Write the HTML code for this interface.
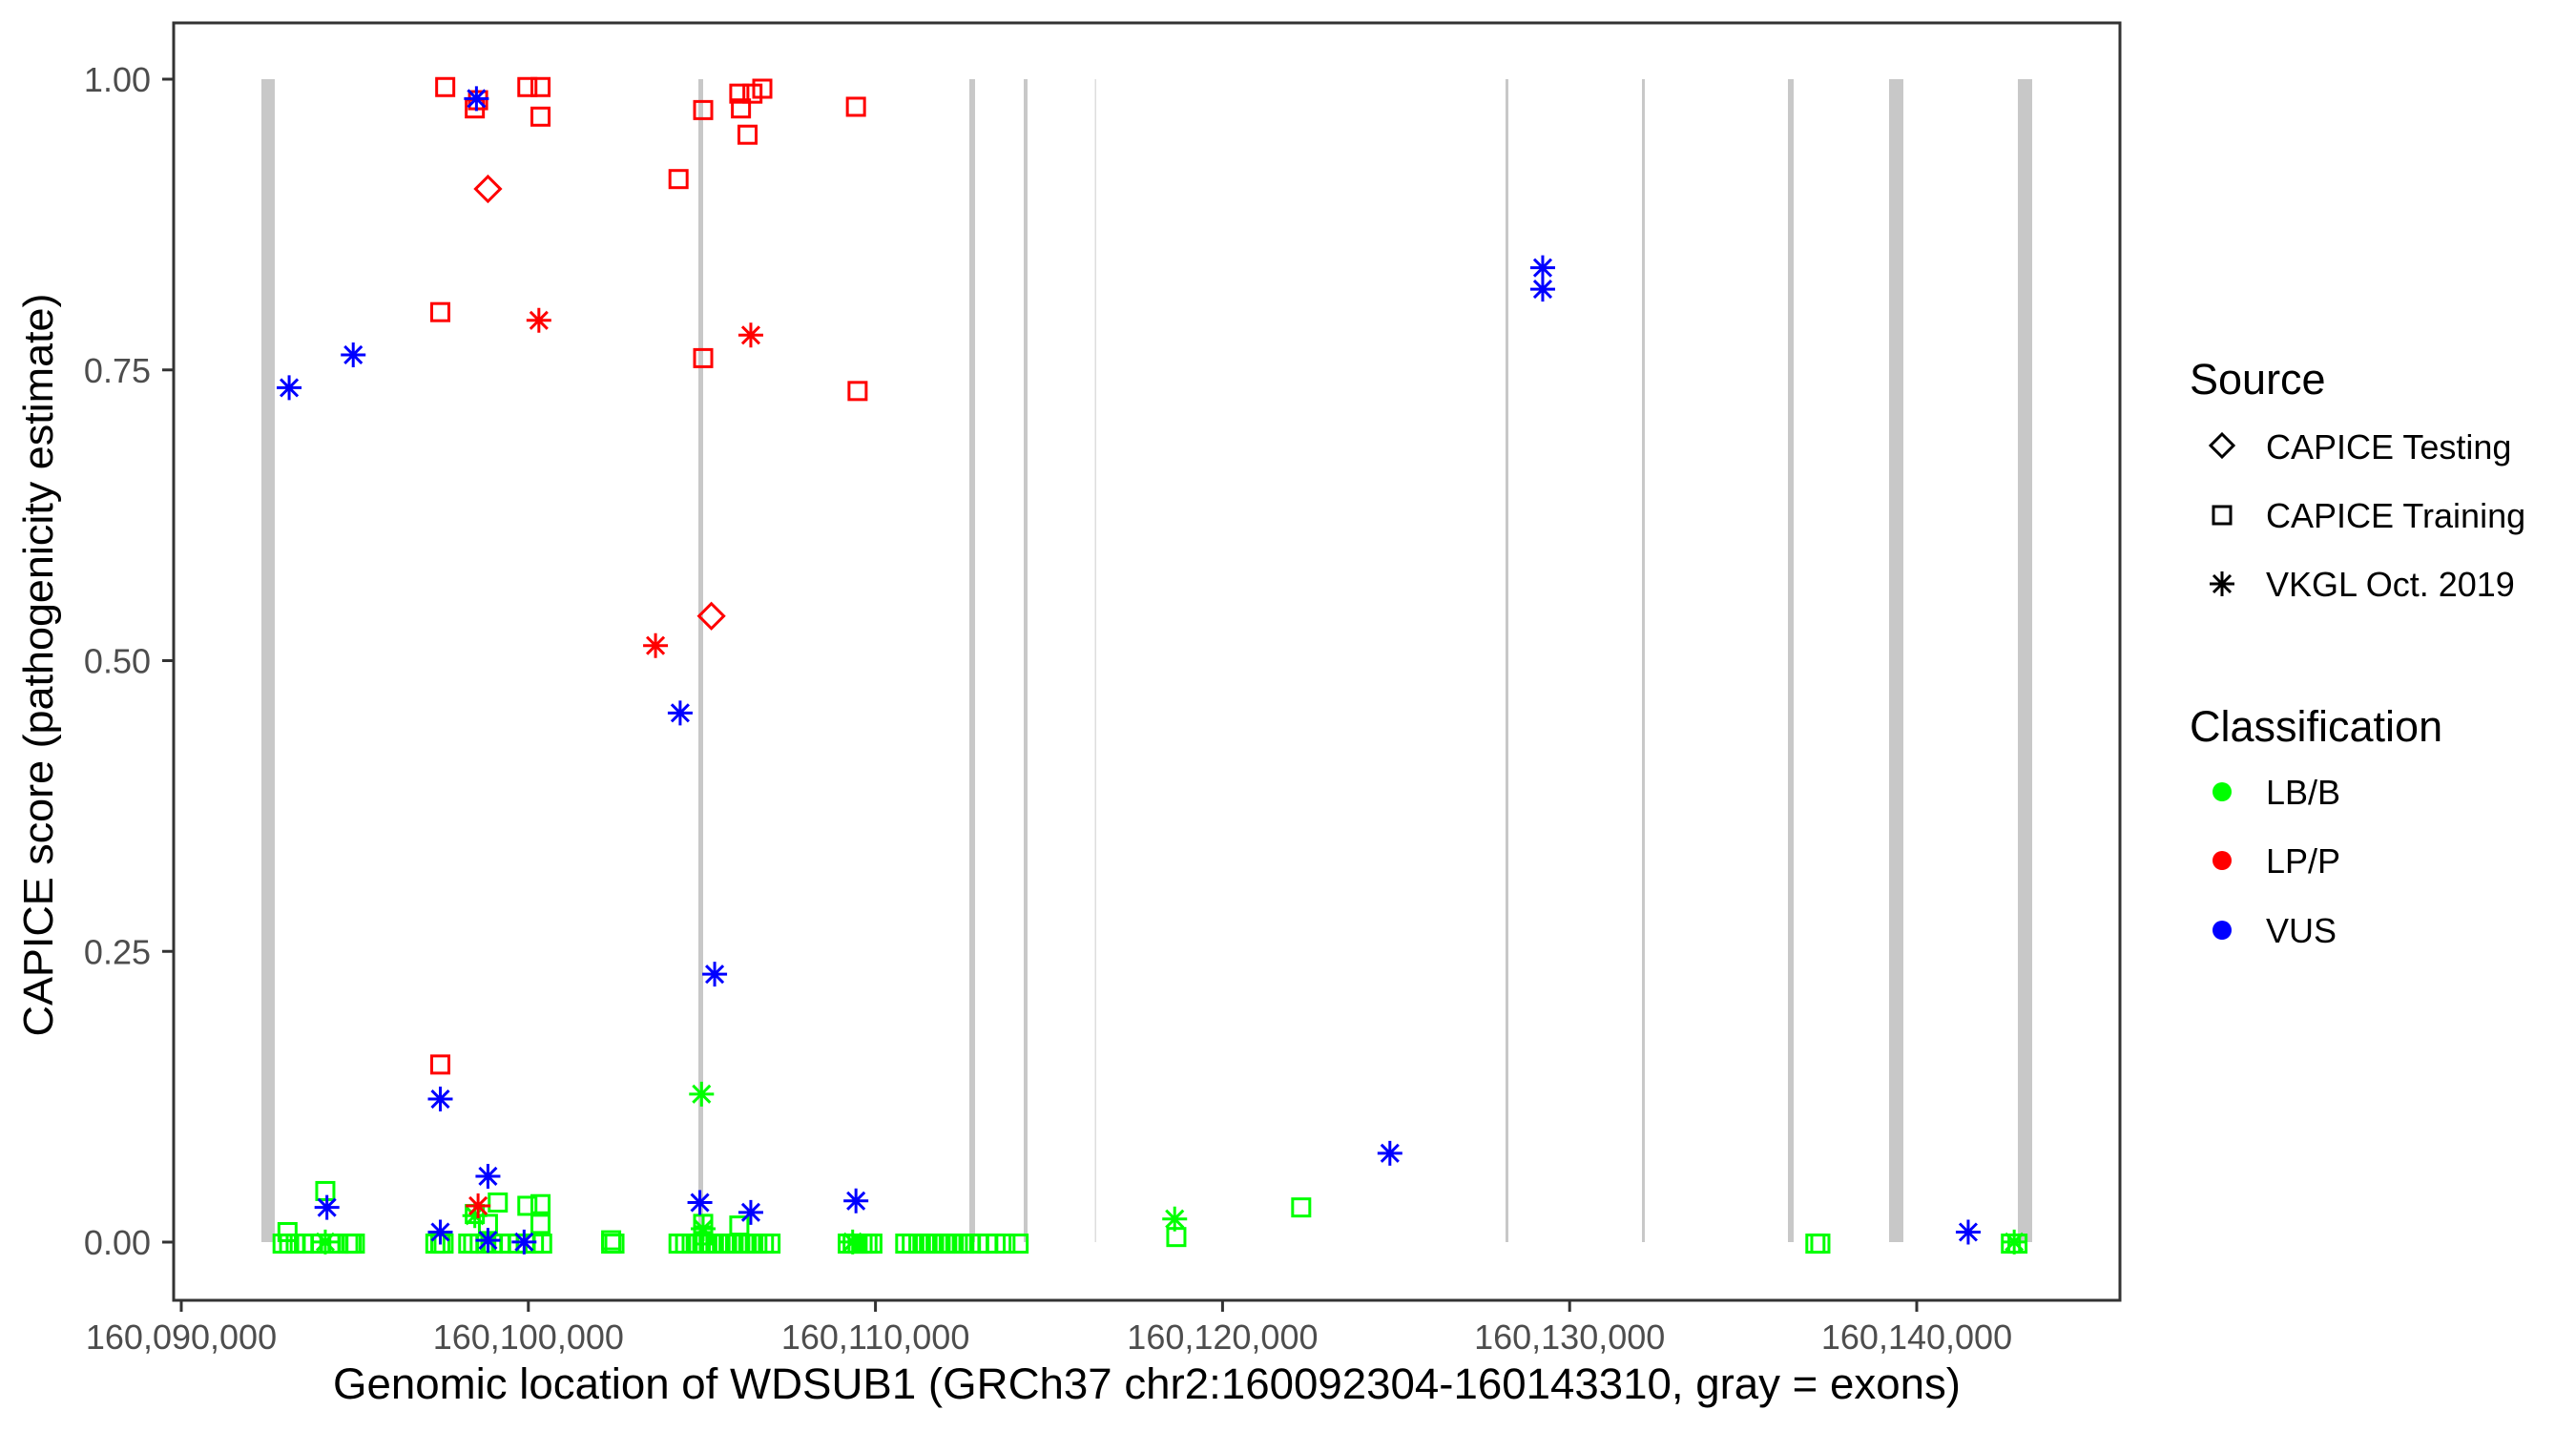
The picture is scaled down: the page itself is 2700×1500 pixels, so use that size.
<!DOCTYPE html>
<html><head><meta charset="utf-8"><style>
html,body{margin:0;padding:0;background:#fff;}
svg{display:block;font-family:"Liberation Sans",sans-serif;}
</style></head><body>
<svg id="s" width="2700" height="1500" xmlns="http://www.w3.org/2000/svg">
<rect width="2700" height="1500" fill="#fff"/>
<g id="exons" fill="#c8c8c8"></g>
<g id="pts" fill="none" stroke-width="3"></g>
<rect x="182" y="24" width="2040" height="1339" fill="none" stroke="#333" stroke-width="3"/>
<g stroke="#333" stroke-width="3" id="ticks"></g>
<g font-size="36" fill="#4d4d4d" id="labs"></g>
<text x="1202" y="1466" font-size="45" text-anchor="middle" textLength="1706" lengthAdjust="spacingAndGlyphs">Genomic location of WDSUB1 (GRCh37 chr2:160092304-160143310, gray = exons)</text>
<text transform="translate(55,697) rotate(-90)" font-size="44" text-anchor="middle" textLength="779" lengthAdjust="spacingAndGlyphs">CAPICE score (pathogenicity estimate)</text>
<g font-size="36" fill="#000">
<text x="2295" y="413" font-size="45">Source</text>
<text x="2375" y="481">CAPICE Testing</text>
<text x="2375" y="553">CAPICE Training</text>
<text x="2375" y="625">VKGL Oct. 2019</text>
<text x="2295" y="777" font-size="45">Classification</text>
<text x="2375" y="843">LB/B</text>
<text x="2375" y="915">LP/P</text>
<text x="2375" y="988">VUS</text>
</g>
<g stroke="#000" stroke-width="3" fill="none">
<polygon points="2329,455 2341,467 2329,479 2317,467"/>
<rect x="2320" y="531" width="18" height="18"/>
<path d="M2329,599v26M2316,612h26M2320,603l18,18M2320,621l18,-18"/>
</g>
<circle cx="2329" cy="830" r="10" fill="#00ff00"/>
<circle cx="2329" cy="902" r="10" fill="#ff0000"/>
<circle cx="2329" cy="975" r="10" fill="#0000ff"/>
</svg>
<script>
var NS="http://www.w3.org/2000/svg";
function el(p,t,a){var e=document.createElementNS(NS,t);for(var k in a)e.setAttribute(k,a[k]);p.appendChild(e);return e;}
var ex=document.getElementById('exons');
[[274,14],[732,5],[1016,6],[1073,4],[1578,3],[1721,3],[1874,6],[1980,15],[2115,15]].forEach(function(b){el(ex,'rect',{x:b[0],y:83,width:b[1],height:1219});});
el(ex,'rect',{x:1147.5,y:83,width:1.5,height:1219,fill:'#dedede'});
var tk=document.getElementById('ticks'),lb=document.getElementById('labs');
var tl=['160,090,000','160,100,000','160,110,000','160,120,000','160,130,000','160,140,000'];
for(var i=0;i<6;i++){var x=190+i*363.8;el(tk,'line',{x1:x,y1:1363,x2:x,y2:1375});
var t=el(lb,'text',{x:x,y:1414,'text-anchor':'middle'});t.textContent=tl[i];}
['1.00','0.75','0.50','0.25','0.00'].forEach(function(s,i){var y=83+i*304.75;el(tk,'line',{x1:170,y1:y,x2:182,y2:y});
var t=el(lb,'text',{x:158,y:y+13,'text-anchor':'end'});t.textContent=s;});
var P=document.getElementById('pts');var K=1.722;
var R='#ff0000',G='#00ff00',B='#0000ff';
function sq(tx,ty,c){el(P,'rect',{x:tx*K-9,y:ty*K-9,width:18,height:18,stroke:c});}
function di(tx,ty,c){var x=tx*K,y=ty*K;el(P,'polygon',{points:(x)+','+(y-13)+' '+(x+13)+','+y+' '+x+','+(y+13)+' '+(x-13)+','+y,stroke:c});}
function as(tx,ty,c){var x=tx*K,y=ty*K;el(P,'path',{d:'M'+x+','+(y-13)+'v26M'+(x-13)+','+y+'h26M'+(x-9)+','+(y-9)+'l18,18M'+(x-9)+','+(y+9)+'l18,-18',stroke:c});}
var gx=[172,176,180,185,190,195,201,206,212,214,216,265,268,270,285,288,292,296,300,305,310,315,320,325,330,372,374,413,417,421,425,429,433,437,441,445,449,453,457,461,465,469,516,519,522,525,528,531,551,555,559,563,567,571,575,579,583,587,591,596,601,606,612,620,1105,1108,1224,1228];
gx.forEach(function(x){sq(x,757,G);});
[[198,725],[175,750],[303,732],[321,734],[329,733],[329,745],[297,745],[289,739],[428,745],[450,746],[716,753],[792,735],[372,755],[428,752]].forEach(function(p){sq(p[0],p[1],G);});
[[427,666],[715,742],[198,756],[428,748],[519,756],[1226,756],[289,740]].forEach(function(p){as(p[0],p[1],G);});
[[271,53],[289,66],[291,61],[321,53],[329,53],[329,71],[413,109],[428,67],[450,57],[451,66],[455,82],[458,57],[464,54],[521,65],[268,190],[428,218],[522,238],[268,648]].forEach(function(p){sq(p[0],p[1],R);});
di(297,115,R);di(433,375,R);
[[328,195],[457,204],[399,393],[291,734]].forEach(function(p){as(p[0],p[1],R);});
[[290,60],[176,236],[215,216],[939,163],[939,176],[414,434],[435,593],[268,669],[199,735],[297,716],[268,750],[297,755],[319,756],[426,732],[457,738],[521,731],[846,702],[1198,750]].forEach(function(p){as(p[0],p[1],B);});
</script>
</body></html>
